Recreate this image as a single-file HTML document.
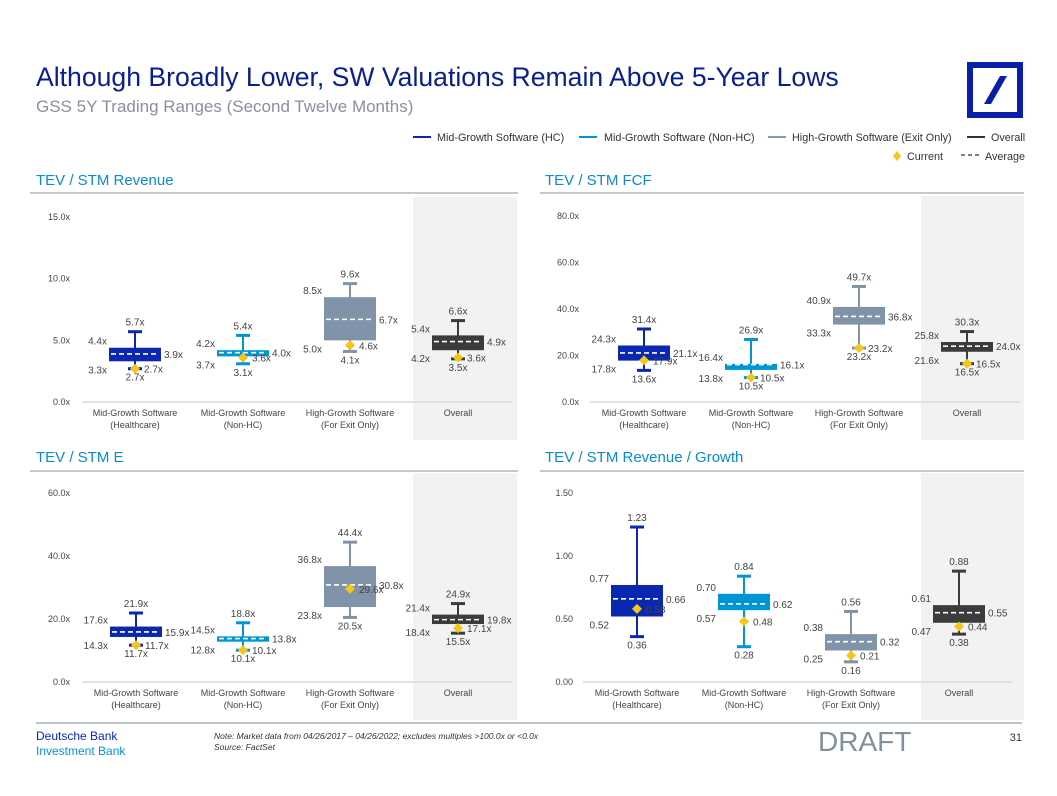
<!DOCTYPE html>
<html><head><meta charset="utf-8">
<style>
html,body{margin:0;padding:0;background:#fff;}
svg{display:block;font-family:"Liberation Sans",Arial,sans-serif;}
</style></head>
<body>
<svg id="page" width="1057" height="796" viewBox="0 0 1057 796">
<text x="36" y="86" font-size="26.6" fill="#0a1f8f">Although Broadly Lower, SW Valuations Remain Above 5-Year Lows</text>
<text x="36" y="112" font-size="17" fill="#8a8fa0">GSS 5Y Trading Ranges (Second Twelve Months)</text>
<g>
<rect x="967" y="62" width="56" height="56" fill="#0a1fa8"/>
<rect x="973" y="68" width="44" height="44" fill="#fff"/>
<polygon points="1000,76 1007,76 991,104 984,104" fill="#0a1fa8"/>
</g>
<g font-size="10.8" fill="#333">
<line x1="413" y1="137" x2="431" y2="137" stroke="#0a27b0" stroke-width="2"/><text x="437" y="141">Mid-Growth Software (HC)</text>
<line x1="579" y1="137" x2="597" y2="137" stroke="#0096d6" stroke-width="2"/><text x="604" y="141">Mid-Growth Software (Non-HC)</text>
<line x1="768" y1="137" x2="786" y2="137" stroke="#8a9bb0" stroke-width="2"/><text x="792" y="141">High-Growth Software (Exit Only)</text>
<line x1="967" y1="137" x2="985" y2="137" stroke="#333" stroke-width="2"/><text x="991" y="141">Overall</text>
<polygon points="897,151 901,156 897,161 893,156" fill="#f5c518"/><text x="907" y="160">Current</text>
<line x1="961" y1="155" x2="980" y2="155" stroke="#333" stroke-width="1.2" stroke-dasharray="4,3"/><text x="985" y="160">Average</text>
</g>
<text x="36" y="185" font-size="15" fill="#0a8ad0">TEV / STM Revenue</text>
<text x="545" y="185" font-size="15" fill="#0a8ad0">TEV / STM FCF</text>
<text x="36" y="462" font-size="15" fill="#0a8ad0">TEV / STM E</text>
<text x="545" y="462" font-size="15" fill="#0a8ad0">TEV / STM Revenue / Growth</text>
<line x1="30" y1="193" x2="518" y2="193" stroke="#c8c8c8" stroke-width="2"/>
<line x1="540" y1="193" x2="1024" y2="193" stroke="#c8c8c8" stroke-width="2"/>
<line x1="30" y1="471" x2="518" y2="471" stroke="#c8c8c8" stroke-width="2"/>
<line x1="540" y1="471" x2="1024" y2="471" stroke="#c8c8c8" stroke-width="2"/>
<g id="charts"></g>
<line x1="36" y1="723" x2="1022" y2="723" stroke="#a8b0bc" stroke-width="1.5"/>
<text x="36" y="740" font-size="12" fill="#0a27b0">Deutsche Bank</text>
<text x="36" y="755" font-size="12" fill="#0096d6">Investment Bank</text>
<text x="214" y="739" font-size="8.5" font-style="italic" fill="#333">Note: Market data from 04/26/2017 – 04/26/2022; excludes multiples &gt;100.0x or &lt;0.0x</text>
<text x="214" y="750" font-size="8.5" font-style="italic" fill="#333">Source: FactSet</text>
<text x="818" y="751" font-size="28" fill="#8090a0">DRAFT</text>
<text x="1022" y="741" font-size="11" fill="#333" text-anchor="end">31</text>
</svg>
<script>
const categories = ["Mid-Growth Software|(Healthcare)","Mid-Growth Software|(Non-HC)","High-Growth Software|(For Exit Only)","Overall"];
const colors = ["#0a27b0","#0096d6","#8093a8","#3c3c3c"];
// each row: [min, boxLow, average, boxHigh, max, current]
const revenueData = [[2.7,3.3,3.9,4.4,5.7,2.7],[3.1,3.7,4.0,4.2,5.4,3.6],[4.1,5.0,6.7,8.5,9.6,4.6],[3.5,4.2,4.9,5.4,6.6,3.6]];
const revenueTicks = [0,5,10,15];
const fcfData = [[13.6,17.8,21.1,24.3,31.4,17.9],[10.5,13.8,16.1,16.4,26.9,10.5],[23.2,33.3,36.8,40.9,49.7,23.2],[16.5,21.6,24.0,25.8,30.3,16.5]];
const fcfTicks = [0,20,40,60,80];
const eData = [[11.7,14.3,15.9,17.6,21.9,11.7],[10.1,12.8,13.8,14.5,18.8,10.1],[20.5,23.8,30.8,36.8,44.4,29.6],[15.5,18.4,19.8,21.4,24.9,17.1]];
const eTicks = [0,20,40,60];
const growthData = [[0.36,0.52,0.66,0.77,1.23,0.58],[0.28,0.57,0.62,0.70,0.84,0.48],[0.16,0.25,0.32,0.38,0.56,0.21],[0.38,0.47,0.55,0.61,0.88,0.44]];
const growthTicks = [0,0.5,1.0,1.5];

const NS="http://www.w3.org/2000/svg";
const root=document.getElementById('charts');
function mk(tag,attrs,parent,txt){const e=document.createElementNS(NS,tag);for(const k in attrs)e.setAttribute(k,attrs[k]);if(txt!==undefined)e.textContent=txt;(parent||root).appendChild(e);return e;}

function drawChart(cfg){
  const g=mk('g',{});
  
  
  const bg=mk('rect',{x:cfg.bgX,y:cfg.top-20,width:cfg.bgW,height:cfg.base-cfg.top+58,fill:'#f2f2f2'},g);
  
  
  const maxV=cfg.ticks[cfg.ticks.length-1];
  const y=v=>cfg.base-(v/maxV)*(cfg.base-cfg.top);
  cfg.ticks.forEach(t=>{
    const tl=mk('text',{x:cfg.tickX,y:y(t)+3,'font-size':9,fill:'#444','text-anchor':'end'},g,cfg.fmtTick(t));
    
    
  });
  mk('line',{x1:cfg.axisX1,y1:cfg.base,x2:cfg.axisX2,y2:cfg.base,stroke:'#d4d8e4','stroke-width':1.5},g);
  cfg.data.forEach((d,i)=>{
    const cx=cfg.centers[i], col=colors[i], w=52;
    const [mn,lo,av,hi,mx,cur]=d;
    const bx=mk('g',{},g);
    
    
    mk('line',{x1:cx,y1:y(mn),x2:cx,y2:y(mx),stroke:col,'stroke-width':2},bx);
    mk('line',{x1:cx-7,y1:y(mx),x2:cx+7,y2:y(mx),stroke:col,'stroke-width':3},bx);
    mk('line',{x1:cx-7,y1:y(mn),x2:cx+7,y2:y(mn),stroke:col,'stroke-width':3},bx);
    const h=Math.max(y(lo)-y(hi),3);
    mk('rect',{x:cx-w/2,y:y(hi),width:w,height:h,fill:col},bx);
    mk('line',{x1:cx-w/2+2,y1:y(av),x2:cx+w/2-2,y2:y(av),stroke:'#fff','stroke-width':1.6,'stroke-dasharray':'5,3'},bx);
    const cy=y(cur);
    const dm=mk('polygon',{points:`${cx},${cy-5} ${cx+5},${cy} ${cx},${cy+5} ${cx-5},${cy}`,fill:'#f5c518'},bx);
    
    
    const f=cfg.fmt, fs=10, c='#444';
    mk('text',{x:cx,y:y(mx)-6,'font-size':fs,fill:c,'text-anchor':'middle'},bx,f(mx));
    mk('text',{x:cx-w/2-2,y:y(hi)-3,'font-size':fs,fill:c,'text-anchor':'end'},bx,f(hi));
    mk('text',{x:cx+w/2+3,y:y(av)+4,'font-size':fs,fill:c},bx,f(av));
    mk('text',{x:cx-w/2-2,y:y(lo)+12,'font-size':fs,fill:c,'text-anchor':'end'},bx,f(lo));
    mk('text',{x:cx,y:y(mn)+12,'font-size':fs,fill:c,'text-anchor':'middle'},bx,f(mn));
    mk('text',{x:cx+9,y:cy+4,'font-size':fs,fill:c},bx,f(cur));
    const parts=categories[i].split('|');
    parts.forEach((p,k)=>{
      const cl=mk('text',{x:cx,y:cfg.base+14+k*12,'font-size':9,fill:'#444','text-anchor':'middle'},g,p);
      
      
    });
  });
}
const fx=v=>v.toFixed(1)+'x';
const f2=v=>v.toFixed(2);
drawChart({name:'revenue-chart',data:revenueData,ticks:revenueTicks,top:217,base:402,tickX:70,axisX1:82,axisX2:512,centers:[135,243,350,458],bgX:413,bgW:104,fmt:fx,fmtTick:fx});
drawChart({name:'fcf-chart',data:fcfData,ticks:fcfTicks,top:216,base:402,tickX:579,axisX1:590,axisX2:1020,centers:[644,751,859,967],bgX:921,bgW:103,fmt:fx,fmtTick:fx});
drawChart({name:'e-chart',data:eData,ticks:eTicks,top:493,base:682,tickX:70,axisX1:82,axisX2:512,centers:[136,243,350,458],bgX:413,bgW:104,fmt:fx,fmtTick:fx});
drawChart({name:'rev-growth-chart',data:growthData,ticks:growthTicks,top:493,base:682,tickX:573,axisX1:583,axisX2:1012,centers:[637,744,851,959],bgX:921,bgW:103,fmt:f2,fmtTick:f2});
</script>
</body></html>
